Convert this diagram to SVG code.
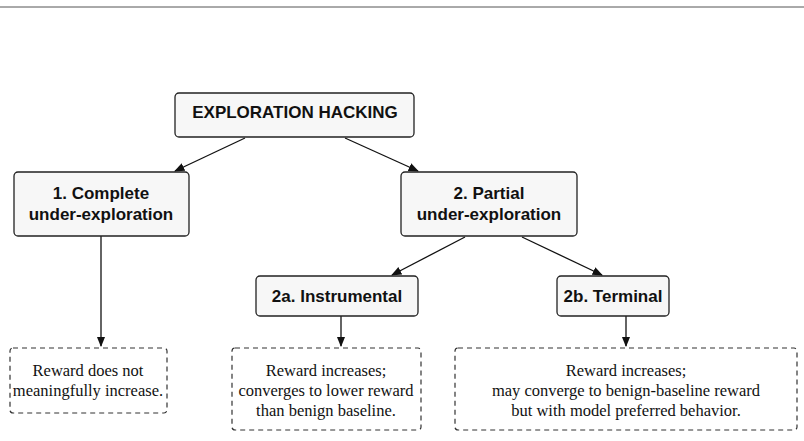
<svg xmlns="http://www.w3.org/2000/svg" width="804" height="441" viewBox="0 0 804 441">
<style>
.n{fill:#f7f7f7;stroke:#222;stroke-width:1.3}
.d{fill:#fff;stroke:#333;stroke-width:1.2;stroke-dasharray:5,4}
.b{font-family:"Liberation Sans",Arial,sans-serif;font-weight:bold;font-size:17px;fill:#111;text-anchor:middle}
.t{font-family:"Liberation Serif","Times New Roman",serif;font-size:16.5px;fill:#111;text-anchor:middle}
.c{stroke:#111;stroke-width:1.3;fill:none;marker-end:url(#a)}
</style>
<defs><marker id="a" viewBox="0 0 10 10" refX="9" refY="5" markerWidth="8" markerHeight="8" orient="auto"><path d="M0,1 L10,5 L0,9 z" fill="#111"/></marker></defs>
<rect width="804" height="441" fill="#fff"/>
<line x1="0" y1="7" x2="804" y2="7" stroke="#555" stroke-width="1"/>
<g id="connectors">
<line class="c" x1="245" y1="138" x2="175" y2="171"/>
<line class="c" x1="345" y1="138" x2="418" y2="171"/>
<line class="c" x1="101" y1="236" x2="101" y2="346"/>
<line class="c" x1="465" y1="237" x2="392" y2="275"/>
<line class="c" x1="522" y1="237" x2="602" y2="275"/>
<line class="c" x1="341" y1="316" x2="341" y2="346"/>
<line class="c" x1="626" y1="316" x2="626" y2="346"/>
</g>
<g id="root"><rect class="n" x="175" y="93" width="239" height="44" rx="4"/><text class="b" x="295" y="118">EXPLORATION HACKING</text></g>
<g id="n1"><rect class="n" x="14" y="172" width="175" height="64" rx="4"/><text class="b" x="101" y="199">1. Complete</text><text class="b" x="101" y="220">under-exploration</text></g>
<g id="n2"><rect class="n" x="401" y="172" width="176" height="64" rx="4"/><text class="b" x="489" y="199">2. Partial</text><text class="b" x="489" y="220">under-exploration</text></g>
<g id="n2a"><rect class="n" x="256" y="276" width="162" height="40" rx="4"/><text class="b" x="337" y="302">2a. Instrumental</text></g>
<g id="n2b"><rect class="n" x="557" y="276" width="112" height="40" rx="4"/><text class="b" x="613" y="302">2b. Terminal</text></g>
<g id="o1"><rect class="d" x="10" y="348" width="157" height="65" rx="3"/><text class="t" x="88" y="376">Reward does not</text><text class="t" x="88" y="396">meaningfully increase.</text></g>
<g id="o2"><rect class="d" x="232" y="348" width="189" height="82" rx="3"/><text class="t" x="326" y="376">Reward increases;</text><text class="t" x="326" y="396">converges to lower reward</text><text class="t" x="326" y="416">than benign baseline.</text></g>
<g id="o3"><rect class="d" x="455" y="348" width="342" height="82" rx="3"/><text class="t" x="626" y="376">Reward increases;</text><text class="t" x="626" y="396">may converge to benign-baseline reward</text><text class="t" x="626" y="416">but with model preferred behavior.</text></g>
</svg>
